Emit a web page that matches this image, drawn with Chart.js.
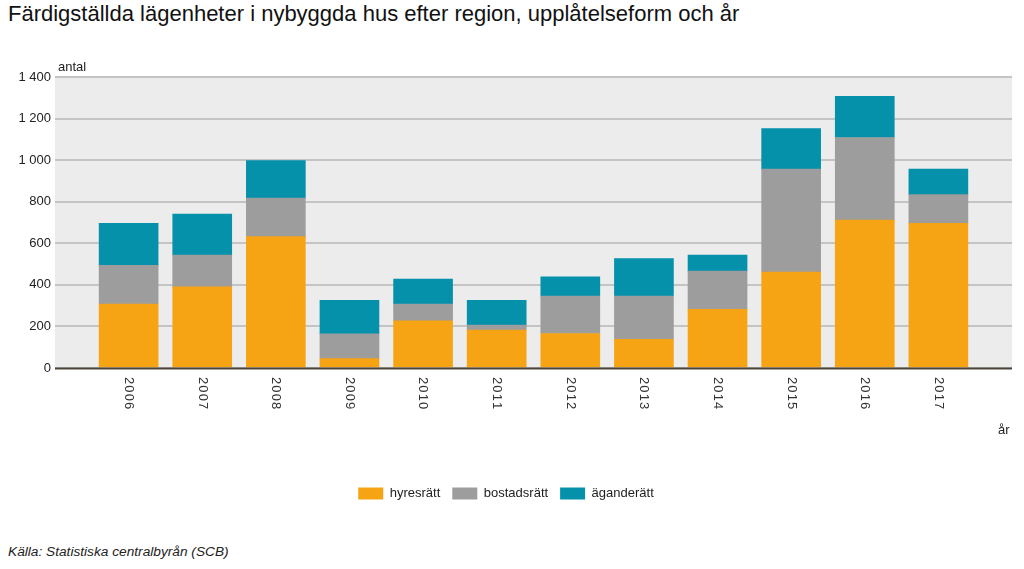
<!DOCTYPE html>
<html lang="sv">
<head>
<meta charset="UTF-8">
<title>Färdigställda lägenheter</title>
<script src="https://cdn.jsdelivr.net/npm/chart.js"></script>
<style>
    body { margin: 0; background: #fff; font-family: Arial, "Liberation Sans", sans-serif; }
    h1 { position: absolute; left: 8px; top: 1px; margin: 0; font-size: 22px; font-weight: normal; color: #111; }
    .chart-box { position: absolute; left: 0; top: 50px; width: 1024px; height: 460px; }
    .source { position: absolute; left: 8px; top: 544px; font-size: 13.7px; font-style: italic; color: #222; }
</style>
</head>
<body>
<h1>Färdigställda lägenheter i nybyggda hus efter region, upplåtelseform och år</h1>
<div class="chart-box"><canvas id="chart"></canvas></div>
<div class="source">Källa: Statistiska centralbyrån (SCB)</div>
<script>
// values
const years = ['2006', '2007', '2008', '2009', '2010', '2011', '2012', '2013', '2014', '2015', '2016', '2017'];
const hyresratt   = [307, 390, 632, 45, 227, 182, 166, 138, 282, 461, 712, 696];
const bostadsratt = [187, 153, 186, 119, 80, 25, 180, 208, 184, 496, 397, 138];
const aganderatt  = [202, 198, 180, 161, 121, 118, 93, 181, 77, 195, 198, 123];
const yTicks = [0, 200, 400, 600, 800, 1000, 1200, 1400];

// one empty slot on each side, the original leaves that room around the bars
const labels = [''].concat(years, ['']);
const pad = arr => [null].concat(arr, [null]);

const fmt = v => String(v).replace(/\B(?=(\d{3})+(?!\d))/g, ' ');

const plotBg = {
    id: 'plotBg',
    beforeDraw(chart) {
        const a = chart.chartArea, c = chart.ctx;
        c.save();
        c.fillStyle = '#ececec';
        c.fillRect(a.left, a.top, a.right - a.left, a.bottom - a.top);
        c.restore();
    },
    afterDraw(chart) {
        const a = chart.chartArea, c = chart.ctx, x = chart.scales.x;
        c.save();
        // base line
        c.strokeStyle = '#4d4439';
        c.lineWidth = 2;
        c.beginPath();
        c.moveTo(a.left, a.bottom + 0.5);
        c.lineTo(a.right, a.bottom + 0.5);
        c.stroke();
        // year labels, turned clockwise
        c.fillStyle = '#333';
        c.font = '13px Arial';
        c.textAlign = 'left';
        c.textBaseline = 'middle';
        labels.forEach((lab, i) => {
            if (!lab) return;
            c.save();
            c.translate(x.getPixelForTick(i), a.bottom + 9);
            c.rotate(Math.PI / 2);
            c.fillText(lab.split('').join(String.fromCharCode(8202)), 0, 0);
            c.restore();
        });
        c.font = '13px Arial';
        c.fillStyle = '#222';
        c.textBaseline = 'alphabetic';
        c.fillText('antal', a.left + 3, a.top - 6);
        c.fillText('år', a.right - 14, a.bottom + 66);
        c.restore();
    }
};

new Chart(document.getElementById('chart'), {
    type: 'bar',
    data: {
        labels: labels,
        datasets: [
            { label: 'hyresrätt', data: pad(hyresratt), backgroundColor: '#f7a414' },
            { label: 'bostadsrätt', data: pad(bostadsratt), backgroundColor: '#9d9d9d' },
            { label: 'äganderätt', data: pad(aganderatt), backgroundColor: '#0691ab' }
        ]
    },
    options: {
        responsive: true,
        maintainAspectRatio: false,
        animation: false,
        layout: { padding: { left: 0, right: 12, top: 27, bottom: 0 } },
        datasets: { bar: { barThickness: 59 } },
        plugins: {
            legend: {
                position: 'bottom',
                labels: { boxWidth: 25, boxHeight: 12, padding: 12, color: '#222', font: { family: 'Arial', size: 13 } }
            },
            tooltip: { enabled: false }
        },
        scales: {
            x: {
                stacked: true,
                offset: false,
                grid: { display: false },
                border: { display: false },
                ticks: { display: false },
                afterFit(s) { s.height = 107; }
            },
            y: {
                stacked: true,
                min: 0,
                max: 1400,
                afterBuildTicks(s) { s.ticks = yTicks.map(v => ({ value: v })); },
                grid: { color: '#c4c4c4', lineWidth: 2, drawTicks: false },
                border: { display: false },
                ticks: { padding: 4, color: '#222', font: { family: 'Arial', size: 13 }, callback: v => fmt(v) },
                afterFit(s) { s.width = 55; }
            }
        }
    },
    plugins: [plotBg]
});
</script>
</body>
</html>
